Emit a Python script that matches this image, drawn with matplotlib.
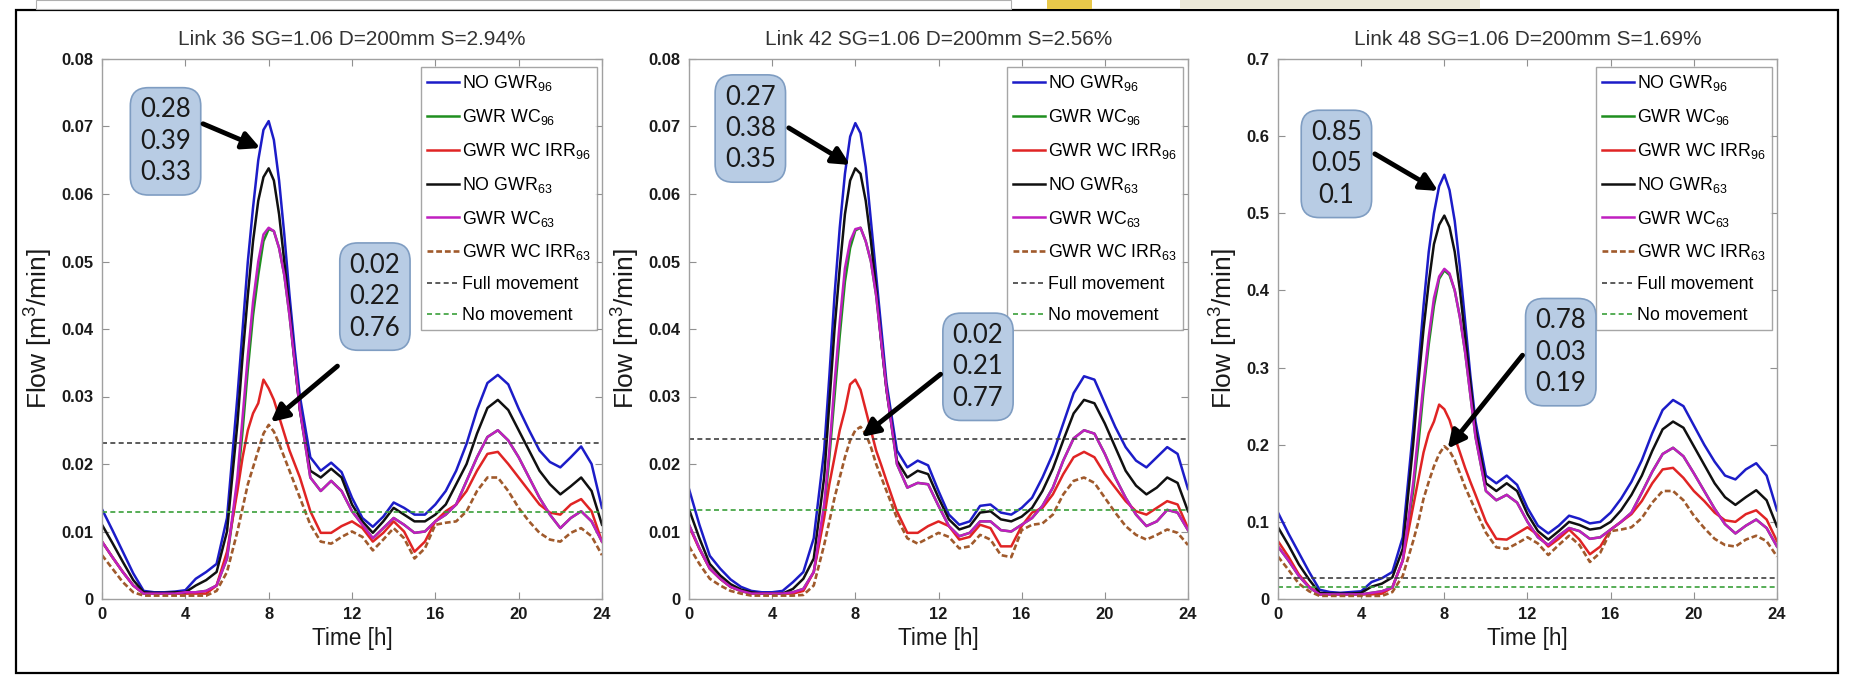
import matplotlib
matplotlib.use('Agg')
import matplotlib.pyplot as plt
from matplotlib import font_manager
from matplotlib.patches import Rectangle
from matplotlib.ticker import FixedLocator, FuncFormatter

# ---------------- data ----------------
time_h = [0, 0.5, 1, 1.5, 2, 2.5, 3, 3.5, 4, 4.5, 5, 5.5, 6,
          6.5, 6.75, 7, 7.25, 7.5, 7.75, 8, 8.25, 8.5, 8.75, 9, 9.25, 9.5,
          10, 10.5, 11, 11.5, 12, 12.5, 13, 13.5, 14, 14.5, 15, 15.5, 16, 16.5, 17, 17.5,
          18, 18.5, 19, 19.5, 20, 20.5, 21, 21.5, 22, 22.5, 23, 23.5, 24]

titles = ["Link 36 SG=1.06 D=200mm S=2.94%",
          "Link 42 SG=1.06 D=200mm S=2.56%",
          "Link 48 SG=1.06 D=200mm S=1.69%"]

series_labels = ["NO GWR$_{96}$", "GWR WC$_{96}$", "GWR WC IRR$_{96}$",
                 "NO GWR$_{63}$", "GWR WC$_{63}$", "GWR WC IRR$_{63}$",
                 "Full movement", "No movement"]

# Link 36
l36_no_gwr_96 = [0.0133, 0.0102, 0.0070, 0.0038, 0.0012, 0.0010, 0.0010, 0.0011, 0.0013, 0.0030, 0.0040, 0.0052, 0.0120,
                 0.0300, 0.0400, 0.0500, 0.0580, 0.0650, 0.0695, 0.0708, 0.0680, 0.0620, 0.0540, 0.0450, 0.0370, 0.0300,
                 0.0210, 0.0190, 0.0202, 0.0188, 0.0150, 0.0120, 0.0107, 0.0122, 0.0143, 0.0135, 0.0125, 0.0125, 0.0140, 0.0160, 0.0190, 0.0230, 0.0280, 0.0320, 0.0332, 0.0318, 0.0282, 0.0250, 0.0220, 0.0203, 0.0195, 0.0210, 0.0226, 0.0200, 0.0135]
l36_wc_96 = [0.0085, 0.0062, 0.0040, 0.0020, 0.0008, 0.0008, 0.0008, 0.0008, 0.0010, 0.0010, 0.0012, 0.0020, 0.0060,
             0.0170, 0.0250, 0.0340, 0.0420, 0.0480, 0.0530, 0.0548, 0.0545, 0.0520, 0.0480, 0.0420, 0.0350, 0.0280,
             0.0180, 0.0160, 0.0175, 0.0160, 0.0130, 0.0110, 0.0090, 0.0105, 0.0120, 0.0110, 0.0098, 0.0100, 0.0115, 0.0125, 0.0140, 0.0175, 0.0210, 0.0240, 0.0250, 0.0235, 0.0210, 0.0180, 0.0150, 0.0125, 0.0105, 0.0120, 0.0130, 0.0115, 0.0085]
l36_wc_irr_96 = [0.0085, 0.0062, 0.0040, 0.0020, 0.0008, 0.0008, 0.0008, 0.0008, 0.0008, 0.0008, 0.0008, 0.0020, 0.0070,
                 0.0160, 0.0210, 0.0250, 0.0275, 0.0290, 0.0325, 0.0312, 0.0295, 0.0270, 0.0245, 0.0220, 0.0200, 0.0180,
                 0.0130, 0.0098, 0.0098, 0.0108, 0.0115, 0.0105, 0.0085, 0.0098, 0.0115, 0.0100, 0.0070, 0.0085, 0.0115, 0.0130, 0.0140, 0.0160, 0.0190, 0.0215, 0.0218, 0.0200, 0.0180, 0.0160, 0.0140, 0.0128, 0.0125, 0.0140, 0.0148, 0.0130, 0.0085]
l36_no_gwr_63 = [0.0110, 0.0083, 0.0055, 0.0028, 0.0010, 0.0009, 0.0009, 0.0010, 0.0010, 0.0020, 0.0028, 0.0040, 0.0100,
                 0.0260, 0.0360, 0.0450, 0.0530, 0.0590, 0.0625, 0.0638, 0.0620, 0.0570, 0.0500, 0.0430, 0.0350, 0.0280,
                 0.0190, 0.0180, 0.0193, 0.0180, 0.0140, 0.0115, 0.0098, 0.0115, 0.0135, 0.0125, 0.0115, 0.0115, 0.0125, 0.0140, 0.0170, 0.0200, 0.0245, 0.0283, 0.0295, 0.0280, 0.0250, 0.0220, 0.0190, 0.0170, 0.0155, 0.0167, 0.0180, 0.0160, 0.0110]
l36_wc_63 = [0.0085, 0.0062, 0.0040, 0.0020, 0.0008, 0.0008, 0.0008, 0.0008, 0.0010, 0.0010, 0.0012, 0.0020, 0.0060,
             0.0180, 0.0270, 0.0360, 0.0440, 0.0500, 0.0540, 0.0550, 0.0545, 0.0520, 0.0480, 0.0420, 0.0350, 0.0280,
             0.0180, 0.0160, 0.0175, 0.0160, 0.0130, 0.0110, 0.0090, 0.0105, 0.0120, 0.0110, 0.0098, 0.0100, 0.0115, 0.0125, 0.0140, 0.0175, 0.0210, 0.0240, 0.0250, 0.0235, 0.0210, 0.0180, 0.0150, 0.0125, 0.0105, 0.0120, 0.0130, 0.0115, 0.0085]
l36_wc_irr_63 = [0.0065, 0.0045, 0.0025, 0.0010, 0.0005, 0.0005, 0.0005, 0.0005, 0.0005, 0.0005, 0.0005, 0.0012, 0.0040,
                 0.0100, 0.0135, 0.0170, 0.0195, 0.0220, 0.0245, 0.0258, 0.0248, 0.0230, 0.0210, 0.0190, 0.0170, 0.0150,
                 0.0110, 0.0085, 0.0082, 0.0092, 0.0100, 0.0092, 0.0072, 0.0088, 0.0105, 0.0090, 0.0060, 0.0075, 0.0110, 0.0113, 0.0115, 0.0130, 0.0160, 0.0180, 0.0180, 0.0160, 0.0135, 0.0115, 0.0098, 0.0088, 0.0085, 0.0098, 0.0105, 0.0093, 0.0065]
l36_full_movement = 0.0231
l36_no_movement = 0.0129

# Link 42
l42_no_gwr_96 = [0.0163, 0.0110, 0.0064, 0.0045, 0.0029, 0.0018, 0.0012, 0.0010, 0.0010, 0.0012, 0.0025, 0.0040, 0.0090,
                 0.0220, 0.0330, 0.0450, 0.0550, 0.0630, 0.0685, 0.0705, 0.0690, 0.0640, 0.0560, 0.0480, 0.0400, 0.0320,
                 0.0220, 0.0195, 0.0205, 0.0198, 0.0160, 0.0125, 0.0110, 0.0115, 0.0138, 0.0140, 0.0128, 0.0125, 0.0135, 0.0150, 0.0180, 0.0215, 0.0260, 0.0305, 0.0330, 0.0325, 0.0290, 0.0255, 0.0225, 0.0205, 0.0195, 0.0210, 0.0225, 0.0215, 0.0163]
l42_wc_96 = [0.0110, 0.0075, 0.0045, 0.0030, 0.0018, 0.0012, 0.0008, 0.0008, 0.0008, 0.0008, 0.0010, 0.0015, 0.0040,
             0.0130, 0.0210, 0.0300, 0.0390, 0.0470, 0.0520, 0.0546, 0.0550, 0.0530, 0.0500, 0.0450, 0.0380, 0.0310,
             0.0200, 0.0165, 0.0172, 0.0170, 0.0138, 0.0108, 0.0093, 0.0098, 0.0115, 0.0115, 0.0102, 0.0100, 0.0110, 0.0120, 0.0138, 0.0165, 0.0205, 0.0238, 0.0250, 0.0245, 0.0215, 0.0180, 0.0150, 0.0125, 0.0108, 0.0115, 0.0132, 0.0128, 0.0102]
l42_wc_irr_96 = [0.0108, 0.0074, 0.0045, 0.0030, 0.0018, 0.0012, 0.0008, 0.0008, 0.0008, 0.0008, 0.0008, 0.0012, 0.0040,
                 0.0120, 0.0170, 0.0210, 0.0250, 0.0280, 0.0318, 0.0325, 0.0310, 0.0280, 0.0250, 0.0220, 0.0198, 0.0175,
                 0.0130, 0.0098, 0.0098, 0.0108, 0.0115, 0.0108, 0.0088, 0.0092, 0.0110, 0.0105, 0.0078, 0.0078, 0.0108, 0.0128, 0.0135, 0.0155, 0.0185, 0.0210, 0.0218, 0.0210, 0.0185, 0.0165, 0.0145, 0.0130, 0.0125, 0.0135, 0.0145, 0.0140, 0.0105]
l42_no_gwr_63 = [0.0133, 0.0090, 0.0052, 0.0035, 0.0022, 0.0014, 0.0010, 0.0008, 0.0008, 0.0008, 0.0015, 0.0030, 0.0060,
                 0.0180, 0.0290, 0.0400, 0.0490, 0.0570, 0.0620, 0.0638, 0.0630, 0.0590, 0.0530, 0.0460, 0.0380, 0.0310,
                 0.0205, 0.0180, 0.0190, 0.0185, 0.0150, 0.0118, 0.0103, 0.0108, 0.0128, 0.0130, 0.0118, 0.0115, 0.0122, 0.0135, 0.0160, 0.0193, 0.0235, 0.0275, 0.0295, 0.0290, 0.0260, 0.0225, 0.0190, 0.0168, 0.0155, 0.0165, 0.0180, 0.0172, 0.0130]
l42_wc_63 = [0.0110, 0.0075, 0.0045, 0.0030, 0.0018, 0.0012, 0.0008, 0.0008, 0.0008, 0.0008, 0.0010, 0.0015, 0.0040,
             0.0140, 0.0220, 0.0320, 0.0410, 0.0490, 0.0530, 0.0548, 0.0550, 0.0530, 0.0500, 0.0450, 0.0380, 0.0310,
             0.0200, 0.0165, 0.0172, 0.0170, 0.0138, 0.0108, 0.0093, 0.0098, 0.0115, 0.0115, 0.0102, 0.0100, 0.0110, 0.0120, 0.0138, 0.0165, 0.0205, 0.0238, 0.0250, 0.0245, 0.0215, 0.0180, 0.0150, 0.0125, 0.0108, 0.0115, 0.0132, 0.0128, 0.0102]
l42_wc_irr_63 = [0.0078, 0.0052, 0.0030, 0.0020, 0.0012, 0.0008, 0.0005, 0.0005, 0.0005, 0.0005, 0.0005, 0.0006, 0.0020,
                 0.0080, 0.0115, 0.0150, 0.0180, 0.0210, 0.0235, 0.0250, 0.0255, 0.0245, 0.0225, 0.0200, 0.0180, 0.0160,
                 0.0120, 0.0090, 0.0082, 0.0090, 0.0098, 0.0092, 0.0075, 0.0078, 0.0095, 0.0088, 0.0065, 0.0062, 0.0102, 0.0110, 0.0112, 0.0125, 0.0155, 0.0175, 0.0180, 0.0172, 0.0150, 0.0128, 0.0108, 0.0095, 0.0088, 0.0095, 0.0103, 0.0098, 0.0080]
l42_full_movement = 0.0237
l42_no_movement = 0.0132

# Link 48
l48_no_gwr_96 = [0.112, 0.085, 0.060, 0.035, 0.012, 0.009, 0.008, 0.009, 0.010, 0.022, 0.027, 0.035, 0.080,
                 0.220, 0.300, 0.380, 0.450, 0.500, 0.535, 0.550, 0.530, 0.490, 0.430, 0.360, 0.290, 0.230,
                 0.160, 0.150, 0.160, 0.148, 0.118, 0.095, 0.085, 0.095, 0.108, 0.104, 0.098, 0.100, 0.112, 0.130, 0.152, 0.180, 0.215, 0.245, 0.258, 0.250, 0.225, 0.200, 0.178, 0.160, 0.155, 0.168, 0.176, 0.160, 0.115]
l48_wc_96 = [0.068, 0.050, 0.030, 0.015, 0.006, 0.006, 0.006, 0.006, 0.006, 0.008, 0.010, 0.015, 0.050,
             0.140, 0.200, 0.270, 0.330, 0.380, 0.415, 0.426, 0.420, 0.400, 0.365, 0.320, 0.265, 0.210,
             0.140, 0.128, 0.135, 0.125, 0.100, 0.080, 0.070, 0.082, 0.092, 0.088, 0.078, 0.080, 0.090, 0.100, 0.112, 0.138, 0.165, 0.188, 0.196, 0.185, 0.163, 0.140, 0.117, 0.097, 0.085, 0.095, 0.103, 0.092, 0.068]
l48_wc_irr_96 = [0.075, 0.055, 0.032, 0.016, 0.006, 0.006, 0.006, 0.006, 0.006, 0.006, 0.007, 0.015, 0.050,
                 0.120, 0.155, 0.190, 0.215, 0.230, 0.252, 0.246, 0.232, 0.210, 0.190, 0.170, 0.152, 0.135,
                 0.100, 0.078, 0.077, 0.085, 0.093, 0.083, 0.068, 0.078, 0.090, 0.077, 0.058, 0.068, 0.090, 0.100, 0.110, 0.127, 0.150, 0.168, 0.170, 0.157, 0.140, 0.127, 0.112, 0.102, 0.100, 0.110, 0.115, 0.103, 0.075]
l48_no_gwr_63 = [0.093, 0.070, 0.045, 0.025, 0.008, 0.007, 0.007, 0.007, 0.008, 0.016, 0.020, 0.028, 0.065,
                 0.200, 0.280, 0.350, 0.410, 0.460, 0.485, 0.497, 0.482, 0.450, 0.400, 0.340, 0.280, 0.220,
                 0.150, 0.140, 0.150, 0.140, 0.110, 0.088, 0.077, 0.088, 0.100, 0.096, 0.090, 0.092, 0.100, 0.115, 0.135, 0.160, 0.192, 0.220, 0.230, 0.222, 0.198, 0.174, 0.150, 0.132, 0.122, 0.132, 0.141, 0.128, 0.094]
l48_wc_63 = [0.068, 0.050, 0.030, 0.015, 0.006, 0.006, 0.006, 0.006, 0.006, 0.008, 0.010, 0.015, 0.050,
             0.150, 0.215, 0.280, 0.340, 0.390, 0.418, 0.428, 0.422, 0.400, 0.365, 0.320, 0.265, 0.210,
             0.140, 0.128, 0.135, 0.125, 0.100, 0.080, 0.070, 0.082, 0.092, 0.088, 0.078, 0.080, 0.090, 0.100, 0.112, 0.138, 0.165, 0.188, 0.196, 0.185, 0.163, 0.140, 0.117, 0.097, 0.085, 0.095, 0.103, 0.092, 0.068]
l48_wc_irr_63 = [0.055, 0.038, 0.020, 0.010, 0.004, 0.004, 0.004, 0.004, 0.004, 0.004, 0.004, 0.009, 0.030,
                 0.075, 0.100, 0.130, 0.152, 0.172, 0.188, 0.198, 0.192, 0.180, 0.163, 0.145, 0.130, 0.115,
                 0.086, 0.067, 0.065, 0.072, 0.080, 0.072, 0.057, 0.070, 0.082, 0.070, 0.048, 0.060, 0.088, 0.090, 0.093, 0.105, 0.125, 0.140, 0.140, 0.128, 0.108, 0.092, 0.078, 0.070, 0.068, 0.077, 0.082, 0.075, 0.055]
l48_full_movement = 0.027
l48_no_movement = 0.016

x_ticks = [0, 4, 8, 12, 16, 20, 24]
y_ticks_small = [0, 0.01, 0.02, 0.03, 0.04, 0.05, 0.06, 0.07, 0.08]
y_ticks_large = [0, 0.1, 0.2, 0.3, 0.4, 0.5, 0.6, 0.7]

# annotation box texts
box_upper = ["0.28\n0.39\n0.33", "0.27\n0.38\n0.35", "0.85\n0.05\n0.1"]
box_lower = ["0.02\n0.22\n0.76", "0.02\n0.21\n0.77", "0.78\n0.03\n0.19"]

# ---------------- fonts ----------------
names = {f.name for f in font_manager.fontManager.ttflist}
if 'Liberation Sans Narrow' in names:
    HFONT, HSCALE = 'Liberation Sans Narrow', 1.0
else:
    HFONT, HSCALE = 'Liberation Sans', 0.88
plt.rcParams['font.family'] = [HFONT, 'DejaVu Sans']
plt.rcParams['mathtext.default'] = 'regular'

W, H = 1865, 676
fig = plt.figure(figsize=(W / 100, H / 100), dpi=100)
fig.patch.set_facecolor('white')

# outer screenshot frame and top strip
fig.patches.append(Rectangle((16 / W, 1 - 673 / H), (1838 - 16) / W, (673 - 10) / H,
                             transform=fig.transFigure, fill=False, edgecolor='black', lw=1.6))
fig.patches.append(Rectangle((36 / W, 1 - 9 / H), 975 / W, 9 / H, transform=fig.transFigure,
                             facecolor='white', edgecolor='#b0b0b0', lw=0.8))
fig.patches.append(Rectangle((1047 / W, 1 - 9 / H), 45 / W, 9 / H, transform=fig.transFigure,
                             facecolor='#e8c84a', edgecolor='none'))
fig.patches.append(Rectangle((1180 / W, 1 - 9 / H), 300 / W, 9 / H, transform=fig.transFigure,
                             facecolor='#ece9d8', edgecolor='none'))

colors = ['#1c1cc8', '#1f8f1f', '#e02424', '#101010', '#c01fc0', '#a05a2c', '#404040', '#3aa03a']

panels = [
    dict(left=102, width=500, data=[l36_no_gwr_96, l36_wc_96, l36_wc_irr_96, l36_no_gwr_63, l36_wc_63, l36_wc_irr_63],
         full=l36_full_movement, none=l36_no_movement, ymax=0.08, yt=y_ticks_small,
         b1=(3.05, 0.0678), a1=((4.85, 0.0704), (7.6, 0.0668)),
         b2=(13.1, 0.0448), a2=((11.3, 0.0345), (8.1, 0.0262))),
    dict(left=689, width=499, data=[l42_no_gwr_96, l42_wc_96, l42_wc_irr_96, l42_no_gwr_63, l42_wc_63, l42_wc_irr_63],
         full=l42_full_movement, none=l42_no_movement, ymax=0.08, yt=y_ticks_small,
         b1=(2.95, 0.0697), a1=((4.8, 0.0698), (7.75, 0.0643)),
         b2=(13.9, 0.0344), a2=((12.1, 0.0333), (8.3, 0.0240))),
    dict(left=1278, width=499, data=[l48_no_gwr_96, l48_wc_96, l48_wc_irr_96, l48_no_gwr_63, l48_wc_63, l48_wc_irr_63],
         full=l48_full_movement, none=l48_no_movement, ymax=0.7, yt=y_ticks_large,
         b1=(2.81, 0.564), a1=((4.66, 0.577), (7.7, 0.529)),
         b2=(13.6, 0.32), a2=((11.76, 0.316), (8.16, 0.195))),
]

fmt = FuncFormatter(lambda v, p: '0' if abs(v) < 1e-12 else f'{v:g}')

for i, p in enumerate(panels):
    ax = fig.add_axes([p['left'] / W, (H - 599) / H, p['width'] / W, 540 / H])
    for k, ys in enumerate(p['data']):
        if k == 5:
            ax.plot(time_h, ys, color=colors[k], lw=1.9, ls=(0, (2.2, 1.1)), label=series_labels[k])
        else:
            ax.plot(time_h, ys, color=colors[k], lw=1.8, label=series_labels[k],
                    solid_joinstyle='round')
    ax.axhline(p['full'], color=colors[6], lw=1.2, ls=(0, (3, 2)), label=series_labels[6])
    ax.axhline(p['none'], color=colors[7], lw=1.2, ls=(0, (3, 2)), label=series_labels[7])

    ax.set_xlim(0, 24)
    ax.set_ylim(0, p['ymax'])
    ax.xaxis.set_major_locator(FixedLocator(x_ticks))
    ax.yaxis.set_major_locator(FixedLocator(p['yt']))
    ax.yaxis.set_major_formatter(fmt)
    ax.tick_params(direction='in', length=5, width=0.8, color='#909090', top=True, right=True,
                   labelsize=13.5 * HSCALE, labelcolor='#1a1a1a', pad=6)
    for lab in ax.get_xticklabels() + ax.get_yticklabels():
        lab.set_fontweight('bold')
    for s in ax.spines.values():
        s.set_color('#a0a0a0')
        s.set_linewidth(1.0)

    ax.set_title(titles[i], fontsize=17 * HSCALE, color='#333333', pad=10)
    ax.set_xlabel('Time [h]', fontsize=18.5 * HSCALE, color='#1a1a1a', labelpad=3)
    ax.set_ylabel('Flow [m$^3$/min]', fontsize=19, color='#1a1a1a', labelpad=5,
                  fontfamily=['Liberation Sans', 'DejaVu Sans'])

    leg = ax.legend(loc='upper right', bbox_to_anchor=(0.99, 0.985), borderaxespad=0,
                    fontsize=14.5 * HSCALE, frameon=True, fancybox=False, labelspacing=0.78,
                    handlelength=1.8, handletextpad=0.15, borderpad=0.35)
    leg.get_frame().set_edgecolor('#909090')
    leg.get_frame().set_linewidth(1.0)

    bbox = dict(boxstyle='round,pad=0.38,rounding_size=0.7', facecolor='#b8cce4', edgecolor='#7f9dc2', lw=1.2)
    for txt, c, arr in ((box_upper[i], p['b1'], p['a1']), (box_lower[i], p['b2'], p['a2'])):
        ax.text(c[0], c[1], txt, ha='center', va='center', fontsize=18.5, color='#1a1a1a',
                family=['Lato', 'DejaVu Sans'], linespacing=1.32, bbox=bbox, zorder=6)
        ax.annotate('', xy=arr[1], xytext=arr[0],
                    arrowprops=dict(arrowstyle='-|>', color='black', lw=3.5, mutation_scale=26,
                                    shrinkA=0, shrinkB=0), zorder=7)

fig.savefig('out.png', dpi=100, facecolor='white')
